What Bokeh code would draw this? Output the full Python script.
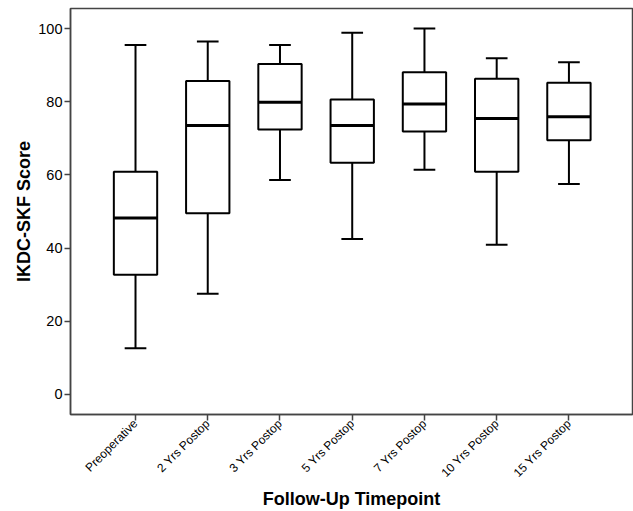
import math
from bokeh.plotting import figure
from bokeh.models import FixedTicker, Range1d, ColumnDataSource
from bokeh.embed import file_html
from bokeh.resources import INLINE

categories = ["Preoperative", "2 Yrs Postop", "3 Yrs Postop", "5 Yrs Postop",
              "7 Yrs Postop", "10 Yrs Postop", "15 Yrs Postop"]
whisker_low = [12.6, 27.5, 58.6, 42.5, 61.4, 40.9, 57.5]
q1 = [32.7, 49.5, 72.4, 63.3, 71.9, 60.9, 69.5]
median = [48.2, 73.5, 79.9, 73.5, 79.4, 75.4, 75.9]
q3 = [60.9, 85.7, 90.3, 80.6, 88.1, 86.3, 85.2]
whisker_high = [95.5, 96.5, 95.5, 98.9, 100.0, 91.9, 90.8]
y_ticks = [0, 20, 40, 60, 80, 100]

xs = list(range(len(categories)))
bw = 0.3
cw = 0.15
src = ColumnDataSource(dict(
    x=xs,
    left=[x - bw for x in xs], right=[x + bw for x in xs],
    cl=[x - cw for x in xs], cr=[x + cw for x in xs],
    lo=whisker_low, q1=q1, med=median, q3=q3, hi=whisker_high,
))

p = figure(width=633, height=511, output_backend="svg", toolbar_location=None,
           x_range=Range1d(-0.9, 6.88), y_range=Range1d(-5.5, 105.5),
           min_border_left=70, min_border_right=1, min_border_top=8, min_border_bottom=96)

p.segment(x0="x", y0="q3", x1="x", y1="hi", source=src, line_color="black", line_width=2)
p.segment(x0="x", y0="lo", x1="x", y1="q1", source=src, line_color="black", line_width=2)
p.segment(x0="cl", y0="hi", x1="cr", y1="hi", source=src, line_color="black", line_width=2)
p.segment(x0="cl", y0="lo", x1="cr", y1="lo", source=src, line_color="black", line_width=2)
p.quad(left="left", right="right", bottom="q1", top="q3", source=src,
       fill_color="white", line_color="black", line_width=2)
p.segment(x0="left", y0="med", x1="right", y1="med", source=src, line_color="black", line_width=3)

p.grid.visible = False
p.outline_line_color = "#444444"
p.outline_line_width = 1.5

p.xaxis.ticker = FixedTicker(ticks=xs)
p.xaxis.major_label_overrides = {i: c for i, c in enumerate(categories)}
p.xaxis.major_label_orientation = math.pi / 4
p.yaxis.ticker = FixedTicker(ticks=y_ticks)

for ax in (p.xaxis, p.yaxis):
    ax.axis_line_color = "#444444"
    ax.axis_line_width = 1.5
    ax.major_tick_line_color = "#444444"
    ax.major_tick_line_width = 1.5
    ax.major_tick_out = 6
    ax.major_tick_in = 0
    ax.minor_tick_line_color = None
    ax.major_label_text_font = "Liberation Sans"
    ax.major_label_text_color = "#000000"
    ax.axis_label_text_font = "Liberation Sans"
    ax.axis_label_text_font_style = "bold"
    ax.axis_label_text_color = "#000000"
    ax.axis_label_text_font_size = "18px"

p.yaxis.major_label_text_font_size = "14.5px"
p.yaxis.major_label_standoff = 2
p.yaxis.axis_label_standoff = 1
p.xaxis.major_label_text_font_size = "12px"
p.xaxis.major_label_standoff = 1
p.xaxis.axis_label_standoff = 1
p.yaxis.axis_label = "IKDC-SKF Score"
p.xaxis.axis_label = "Follow-Up Timepoint"

open("out.html", "w").write(file_html(p, INLINE))
